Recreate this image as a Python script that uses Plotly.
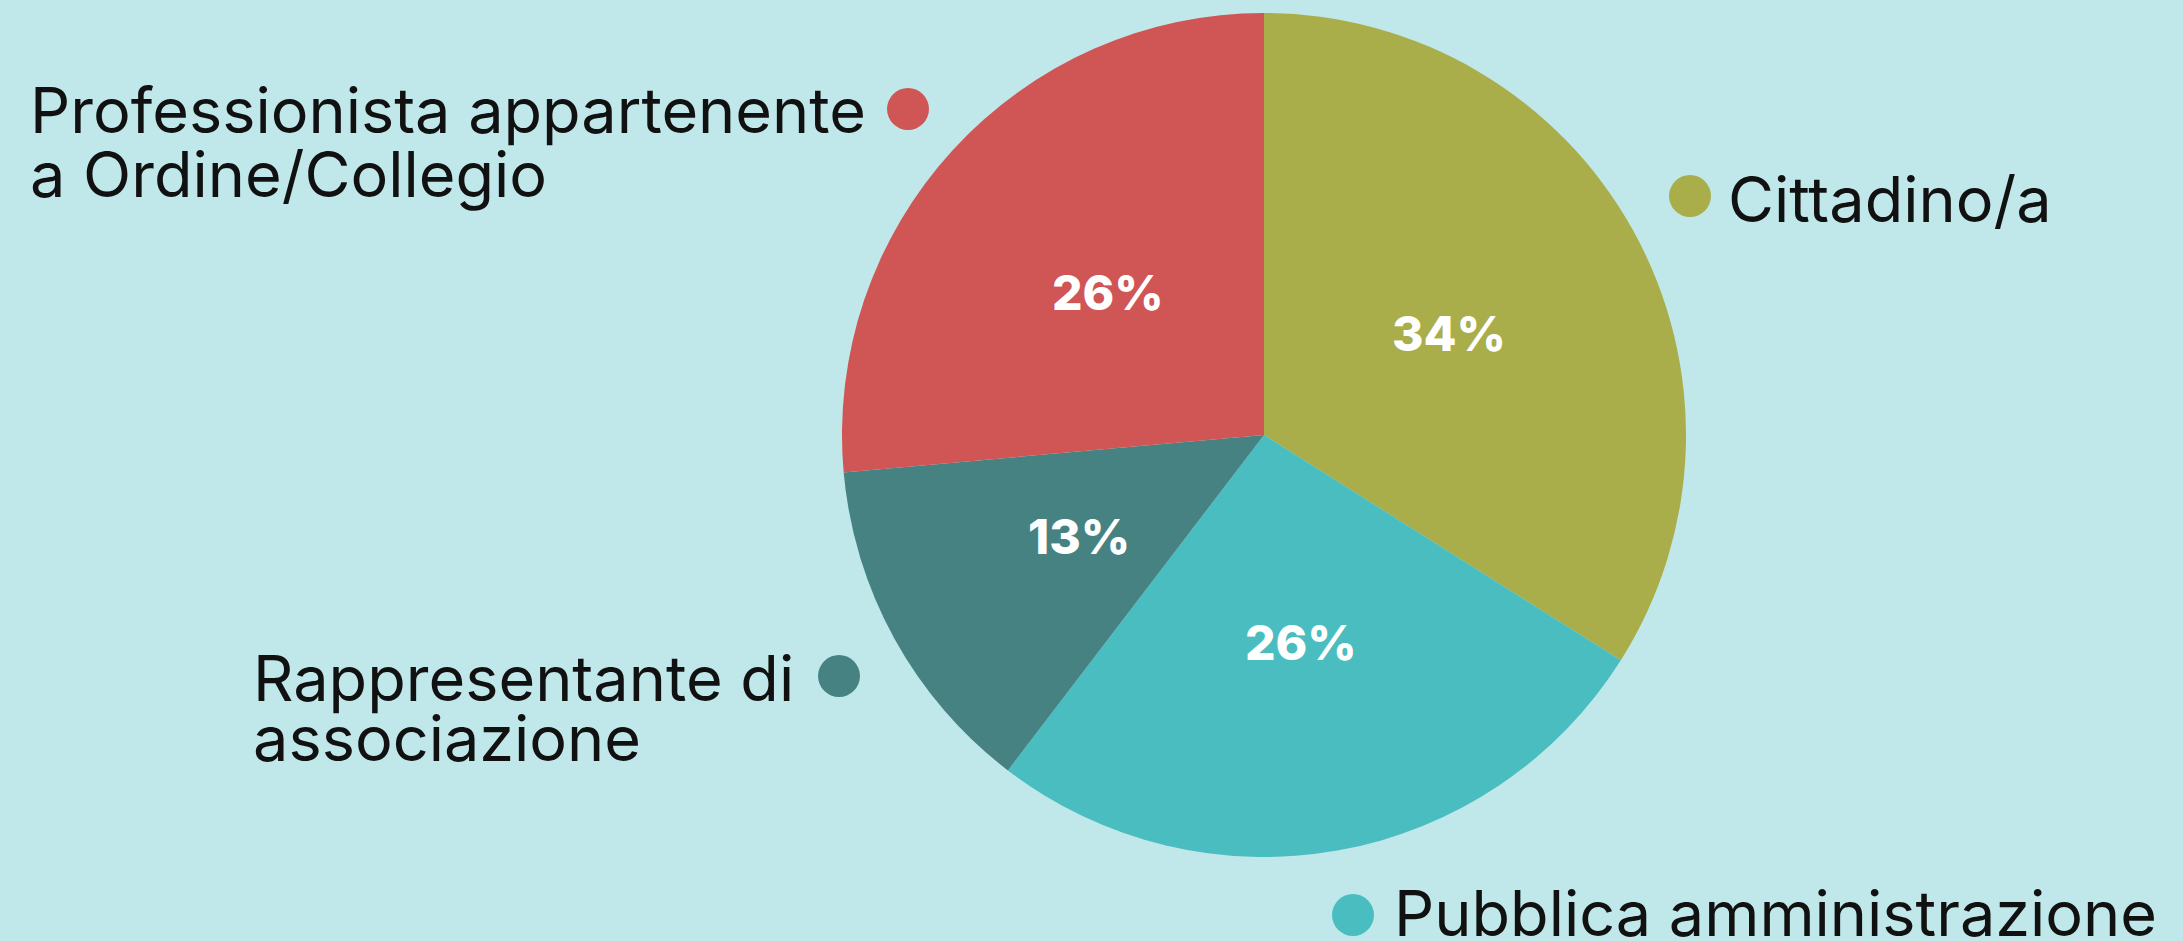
import math
import plotly.graph_objects as go

W, H = 2183, 941

categories = ["Cittadino/a", "Pubblica amministrazione", "Rappresentante di associazione",
              "Professionista appartenente a Ordine/Collegio"]
counts = [18, 14, 7, 14]
colors = ["#A9AD4A", "#4ABDC0", "#478282", "#D05555"]

# label lines (text, left px, baseline px) and dot (cx, cy) per category
label_lines = [
    [("Cittadino/a", 1726, 220)],
    [("Pubblica amministrazione", 1392, 934)],
    [("Rappresentante di", 251, 699), ("associazione", 251, 759)],
    [("Professionista appartenente", 28, 131), ("a Ordine/Collegio", 28, 195)],
]
dots = [(1690, 196), (1353, 915), (839, 676), (908, 109)]
DOT_R = 21
LABEL_SIZE = 63
PCT_SIZE = 48

cx, cy, R = 1264, 435, 422

fig = go.Figure(go.Pie(
    labels=categories,
    values=counts,
    sort=False,
    direction="clockwise",
    rotation=0,
    marker=dict(colors=colors, line=dict(width=0)),
    textinfo="none",
    hoverinfo="label+percent",
    showlegend=False,
    domain=dict(x=[(cx - R) / W, (cx + R) / W], y=[1 - (cy + R) / H, 1 - (cy - R) / H]),
))

ann = []
# percentage labels placed at half radius along each slice's mid-angle
total = sum(counts)
cum = 0
for v in counts:
    mid = (cum + v / 2) / total * 2 * math.pi
    cum += v
    px = cx + 0.5 * R * math.sin(mid)
    py = cy - 0.5 * R * math.cos(mid)
    ann.append(dict(
        text=f"{round(v / total * 100)}%", xref="paper", yref="paper",
        x=px / W, y=1 - py / H, xanchor="center", yanchor="middle", showarrow=False,
        font=dict(family="Inter", size=PCT_SIZE, color="white", weight=800),
    ))

for lines in label_lines:
    for txt, x, base in lines:
        ann.append(dict(
            text=txt, xref="paper", yref="paper",
            x=x / W, y=1 - (base - 0.33 * LABEL_SIZE) / H,
            xanchor="left", yanchor="middle", showarrow=False,
            font=dict(family="Inter", size=LABEL_SIZE, color="#111111"),
        ))

shapes = []
for (dx, dy), c in zip(dots, colors):
    shapes.append(dict(
        type="circle", xref="paper", yref="paper",
        x0=(dx - DOT_R) / W, x1=(dx + DOT_R) / W,
        y0=1 - (dy + DOT_R) / H, y1=1 - (dy - DOT_R) / H,
        fillcolor=c, line=dict(width=0),
    ))

fig.update_layout(
    width=W, height=H,
    margin=dict(l=0, r=0, t=0, b=0),
    paper_bgcolor="#C0E8EA",
    plot_bgcolor="#C0E8EA",
    annotations=ann,
    shapes=shapes,
)

fig.write_html(
    "out.html",
    config={"displayModeBar": False},
    post_script="document.body.style.margin='0';document.body.style.padding='0';"
                "document.body.style.overflow='hidden';"
                "document.body.style.background='#C0E8EA';",
)
